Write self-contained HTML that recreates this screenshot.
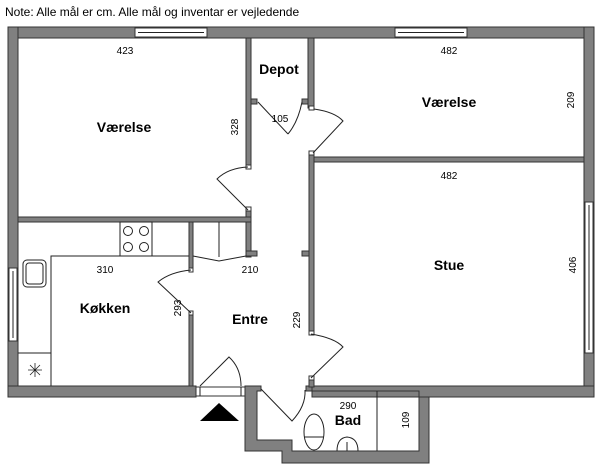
<!DOCTYPE html>
<html><head><meta charset="utf-8"><style>
html,body{margin:0;padding:0;background:#fff}
svg{display:block}
text{font-family:"Liberation Sans",sans-serif;fill:#000}
.b{font-weight:bold;font-size:14px}
.d{font-size:10px}
</style></head><body>
<svg width="600" height="468" viewBox="0 0 600 468" xmlns="http://www.w3.org/2000/svg">
<text x="5" y="16" font-size="12">Note: Alle mål er cm. Alle mål og inventar er vejledende</text>
<g fill="#808080" stroke="#333" stroke-width="1">
<!-- outer walls -->
<rect x="8" y="27" width="586" height="11"/>
<rect x="8" y="27" width="10" height="370"/>
<rect x="584" y="27" width="10" height="370"/>
<rect x="8" y="386" width="188" height="11"/>
<rect x="312" y="386" width="282" height="11"/>
<path d="M245 386 H261 V391 H257 V440 H292 V451 H419 V391 H306 V386 H312 V397 H429 V463 H282 V451 H245 Z"/>
<!-- interior walls -->
<rect x="246" y="38" width="5" height="129"/>
<rect x="246" y="209" width="5" height="48"/>
<rect x="18" y="217" width="233" height="5"/>
<rect x="246" y="251" width="11" height="5"/>
<rect x="302" y="251" width="8" height="5"/>
<rect x="308" y="38" width="6" height="70"/>
<rect x="309" y="153" width="5" height="180"/>
<rect x="309" y="378" width="5" height="9"/>
<rect x="314" y="157" width="270" height="5"/>
<rect x="189" y="222" width="4" height="48"/>
<rect x="189" y="313" width="4" height="73"/>
<rect x="251" y="99" width="6" height="5"/>
<rect x="302" y="99" width="6" height="5"/>
</g>
<g fill="#fff" stroke="#333" stroke-width="1">
<!-- windows -->
<rect x="135" y="28" width="72" height="9"/>
<rect x="395" y="28" width="72" height="9"/>
<rect x="585" y="202" width="8" height="151"/>
<rect x="9" y="268" width="8" height="73"/>
<rect x="196" y="387" width="49" height="9"/>
<!-- jambs -->
<rect x="246" y="165" width="5" height="4"/>
<rect x="246" y="207" width="5" height="4"/>
<rect x="309" y="106" width="5" height="4"/>
<rect x="309" y="151" width="5" height="4"/>
<rect x="309" y="331" width="5" height="4"/>
<rect x="309" y="376" width="5" height="4"/>
<rect x="189" y="268" width="4" height="4"/>
<rect x="189" y="311" width="4" height="4"/>
</g>
<g fill="none" stroke="#222" stroke-width="1">
<line x1="138" y1="32.5" x2="204" y2="32.5"/>
<line x1="398" y1="32.5" x2="464" y2="32.5"/>
<line x1="589" y1="205" x2="589" y2="350"/>
<line x1="13" y1="271" x2="13" y2="338"/>
<line x1="200" y1="387" x2="200" y2="396"/>
<line x1="241" y1="387" x2="241" y2="396"/>
<!-- doors -->
<path d="M248 210 L217 179 Q228 168 248 167"/>
<path d="M258 102 L288 134"/>
<path d="M302 102 Q298 122 288 134"/>
<path d="M314 109 Q335 112 343 121 L313 153"/>
<path d="M311 334 Q335 338 343 347 L311 378"/>
<path d="M191 270 Q170 272 158 282 L191 313"/>
<path d="M261 389 L292 421 Q306 406 305 390"/>
<path d="M200 386 L229 357 Q241 368 241 386"/>
<!-- kitchen -->
<path d="M51 386 V256 H189"/>
<line x1="18" y1="353" x2="51" y2="353"/>
<rect x="120" y="222" width="32" height="34"/>
<circle cx="128" cy="231" r="4.5"/><circle cx="144" cy="231" r="4.5"/>
<circle cx="128" cy="247" r="4.5"/><circle cx="144" cy="247" r="4.5"/>
<rect x="23" y="260" width="23" height="27" rx="4"/>
<rect x="26" y="263" width="17" height="21" rx="3"/>
<path d="M28 370 H42 M35 363 V377 M30 365 L40 375 M40 365 L30 375" stroke-width="0.8"/>
<!-- closet -->
<line x1="219" y1="222" x2="219" y2="257"/>
<path d="M193 256 L219 261 L246 256"/>
<!-- bath -->
<line x1="377" y1="391" x2="377" y2="451"/>
<ellipse cx="314" cy="432" rx="10" ry="18"/>
<line x1="304" y1="437" x2="324" y2="437"/>
<path d="M337 451 Q337 438 347 437 Q358 438 358 451"/>
<line x1="347" y1="442" x2="347" y2="451"/>
</g>
<polygon points="200,421 219,403 239,421" fill="#000"/>
<g text-anchor="middle">
<text class="d" x="125" y="54">423</text>
<text class="b" x="124" y="132">Værelse</text>
<text class="d" transform="translate(238,127) rotate(-90)">328</text>
<text class="b" x="279" y="74">Depot</text>
<text class="d" x="280" y="122">105</text>
<text class="d" x="449" y="54">482</text>
<text class="b" x="449" y="107">Værelse</text>
<text class="d" transform="translate(574,100) rotate(-90)">209</text>
<text class="d" x="449" y="179">482</text>
<text class="b" x="449" y="270">Stue</text>
<text class="d" transform="translate(576,265) rotate(-90)">406</text>
<text class="d" x="105" y="273">310</text>
<text class="d" x="250" y="273">210</text>
<text class="b" x="105" y="313">Køkken</text>
<text class="d" transform="translate(181,308) rotate(-90)">293</text>
<text class="b" x="250" y="324">Entre</text>
<text class="d" transform="translate(300,320) rotate(-90)">229</text>
<text class="d" x="348" y="409">290</text>
<text class="b" x="348" y="425">Bad</text>
<text class="d" transform="translate(409,420) rotate(-90)">109</text>
</g>
</svg>
</body></html>
